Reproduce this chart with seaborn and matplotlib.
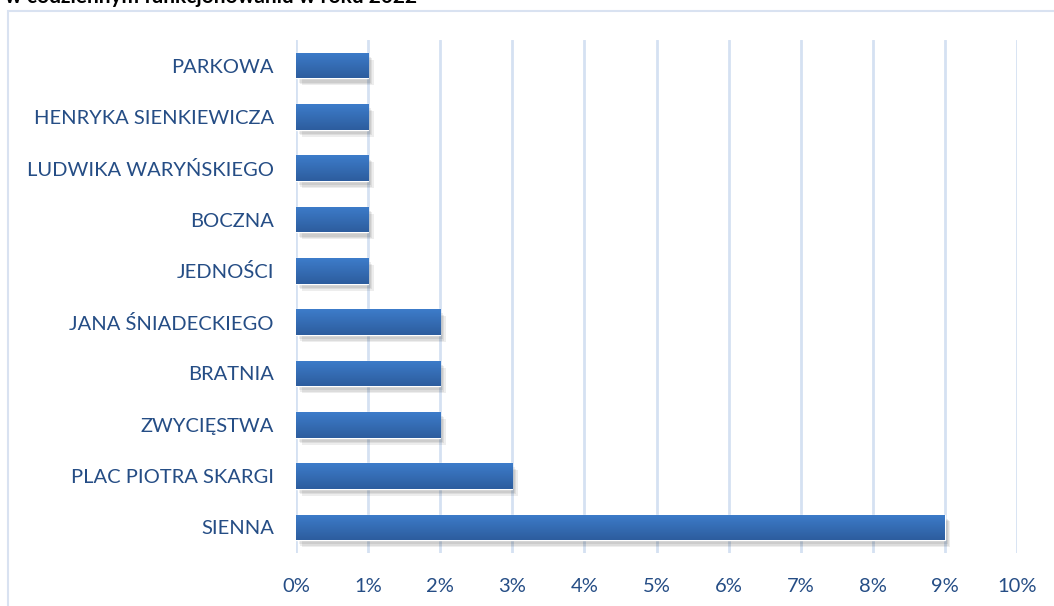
import numpy as np
import pandas as pd
import matplotlib
matplotlib.use("Agg")
import matplotlib.pyplot as plt
import matplotlib.patheffects as pe
from matplotlib.patches import Rectangle
from matplotlib.ticker import FuncFormatter, MultipleLocator
from matplotlib.colors import LinearSegmentedColormap
import seaborn as sns

categories = ["PARKOWA", "HENRYKA SIENKIEWICZA", "LUDWIKA WARYŃSKIEGO", "BOCZNA",
              "JEDNOŚCI", "JANA ŚNIADECKIEGO", "BRATNIA", "ZWYCIĘSTWA",
              "PLAC PIOTRA SKARGI", "SIENNA"]
values = [1, 1, 1, 1, 1, 2, 2, 2, 3, 9]
title = "w codziennym funkcjonowaniu w roku 2022"

df = pd.DataFrame({"ulica": categories, "procent": values})

sns.set_theme(style="white")
plt.rcParams["font.family"] = ["Lato", "DejaVu Sans"]

fig = plt.figure(figsize=(10.54, 6.06), dpi=100)
ax = fig.add_axes([296/1054, 1-553/606, (1017-296)/1054, (553-40)/606])

sns.barplot(data=df, x="procent", y="ulica", order=categories, orient="h",
            color="#3567b0", width=0.5, ax=ax, saturation=1)

# gradient + soft shadow on each bar
grad = np.linspace(0, 1, 64).reshape(-1, 1)
cmap = LinearSegmentedColormap.from_list("g", ["#3d7cca", "#2d5d9e"])
shadow = [pe.SimplePatchShadow(offset=(o, -o - 1), shadow_rgbFace="#000000", alpha=0.07)
          for o in (4, 3, 2)]
for p in list(ax.patches):
    p.set_path_effects(shadow + [pe.Normal()])
    x0, y0 = p.get_x(), p.get_y()
    w, h = p.get_width(), p.get_height()
    im = ax.imshow(grad, cmap=cmap, extent=(x0, x0 + w, y0 + h, y0), aspect="auto",
                   zorder=p.get_zorder() + 0.1, interpolation="bilinear")
    im.set_clip_path(p)

ax.set_xlim(0, 10)
ax.set_ylim(len(categories) - 0.5, -0.5)
ax.xaxis.set_major_locator(MultipleLocator(1))
ax.xaxis.set_major_formatter(FuncFormatter(lambda v, _: f"{int(round(v))}%"))
ax.grid(axis="x", color="#d5e1f2", linewidth=2)
ax.set_axisbelow(True)
for s in ax.spines.values():
    s.set_visible(False)
ax.set_xlabel("")
ax.set_ylabel("")
ax.tick_params(axis="both", length=0, labelsize=14.5, labelcolor="#254d85")
ax.tick_params(axis="x", pad=18)
ax.tick_params(axis="y", pad=16)

# chart frame
fig.patches.append(Rectangle((8/1054, -0.05), 1.1, 1 - 11/606 + 0.05, transform=fig.transFigure,
                             fill=False, edgecolor="#d9e2f1", linewidth=1.5))
# title (cut off at the top edge, as in the reference)
fig.text(5/1054, 1 - 3/606, title, fontsize=15, fontweight="bold", color="#000000",
         ha="left", va="baseline")

fig.savefig("out.png", dpi=100)
